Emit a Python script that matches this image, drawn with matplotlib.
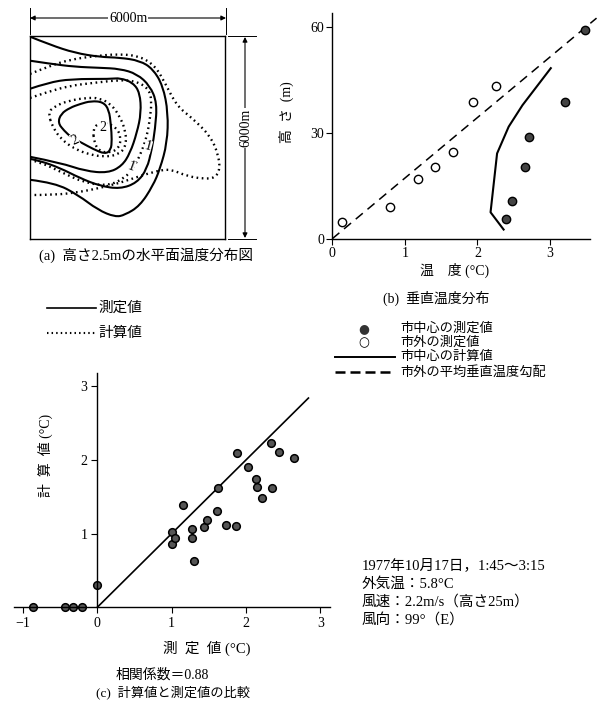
import matplotlib
matplotlib.use('Agg')
import matplotlib.pyplot as plt
from matplotlib.lines import Line2D
from matplotlib.path import Path
from matplotlib.patches import PathPatch

plt.rcParams['font.family'] = ['Liberation Serif', 'Noto Sans CJK JP']

# (a) contour lines, in km inside the 6 km x 6 km square
meas_outer = [(0, 5.98), (0.62, 5.74), (1.38, 5.50), (2.15, 5.38), (2.77, 5.36), (3.38, 5.27),
              (3.78, 5.03), (4.09, 4.53), (4.25, 3.73), (4.22, 2.84), (4.00, 2.07), (3.78, 1.57),
              (3.38, 0.98), (2.92, 0.71), (2.62, 0.65), (2.09, 0.86), (1.48, 1.30), (0.77, 1.66),
              (0, 1.75)]
meas_mid = [(0, 5.27), (0.62, 5.18), (1.38, 5.09), (2.15, 5.06), (2.77, 5.03), (3.29, 4.88),
            (3.69, 4.53), (3.91, 4.02), (3.85, 3.25), (3.75, 2.66), (3.60, 2.07), (3.29, 1.66),
            (2.77, 1.48), (2.15, 1.57), (1.54, 1.80), (0.92, 2.10), (0.31, 2.31), (0, 2.37)]
meas_one = [(0, 4.44), (0.55, 4.62), (1.26, 4.73), (2.49, 4.73), (2.77, 4.76), (3.17, 4.62),
            (3.38, 4.32), (3.42, 3.73), (3.29, 3.14), (3.08, 2.54), (2.83, 2.16), (2.40, 1.95),
            (1.69, 2.01), (0.95, 2.25), (0, 2.43)]
meas_two = [(0.86, 3.43), (0.95, 3.70), (1.23, 3.88), (1.54, 3.99), (1.88, 4.08), (2.25, 4.05),
            (2.43, 3.82), (2.49, 3.37), (2.52, 2.93), (2.49, 2.63), (2.31, 2.51), (1.94, 2.66),
            (1.60, 2.84), (1.29, 2.99), (1.05, 3.20), (0.86, 3.43)]
calc_outer = [(0, 4.88), (0.62, 5.12), (1.23, 5.30), (2.00, 5.41), (2.77, 5.47), (3.38, 5.40),
              (3.85, 5.12), (4.15, 4.62), (4.52, 3.93), (5.02, 3.55), (5.54, 3.05), (5.78, 2.54),
              (5.85, 2.07), (5.69, 1.80), (5.32, 1.78), (4.83, 1.86), (4.31, 2.07), (3.91, 2.01),
              (3.38, 1.86), (2.77, 1.66), (2.15, 1.51), (1.54, 1.39), (0.77, 1.30), (0, 1.30)]
calc_one = [(0, 4.17), (0.55, 4.35), (1.23, 4.53), (2.00, 4.62), (2.77, 4.70), (3.23, 4.67),
            (3.63, 4.47), (3.75, 4.11), (3.69, 3.55), (3.60, 3.05), (3.42, 2.54), (3.20, 2.13),
            (2.92, 1.80), (2.40, 1.57), (1.69, 1.66), (0.95, 1.98), (0.37, 2.25), (0, 2.34)]
calc_mid = [(0.55, 3.73), (0.77, 3.93), (1.17, 4.08), (1.69, 4.17), (2.15, 4.17), (2.52, 3.96),
            (2.77, 3.61), (2.95, 3.17), (2.95, 2.72), (2.71, 2.49), (2.31, 2.43), (1.85, 2.49),
            (1.38, 2.66), (0.98, 2.93), (0.71, 3.28), (0.55, 3.73)]
calc_two = [(1.94, 3.22), (2.06, 3.40), (2.37, 3.43), (2.68, 3.28), (2.80, 2.99), (2.74, 2.69),
            (2.46, 2.54), (2.12, 2.60), (1.97, 2.87), (1.94, 3.22)]

# (b) vertical temperature profile
out_temp = [0.14, 0.79, 1.18, 1.41, 1.66, 1.94, 2.26]
out_height = [4.7, 9.1, 17.0, 20.4, 24.7, 38.8, 43.3]
city_temp = [2.39, 2.47, 2.65, 2.71, 3.21, 3.48]
city_height = [5.5, 10.7, 20.4, 29.0, 38.8, 59.1]
city_calc_temp = [2.36, 2.18, 2.27, 2.43, 2.62, 3.01]
city_calc_height = [2.6, 7.5, 24.2, 31.8, 37.9, 48.4]
grad_temp = [0, 3.64]
grad_height = [0, 62.6]

# (c) calculated vs measured
measured = [-0.86, -0.43, -0.33, -0.21, 0.0, 1.00, 1.01, 1.05, 1.15, 1.27, 1.27, 1.30, 1.43,
            1.47, 1.61, 1.62, 1.73, 1.87, 1.88, 2.03, 2.14, 2.15, 2.21, 2.34, 2.35, 2.45, 2.65]
calculated = [0, 0, 0, 0, 0.30, 1.02, 0.86, 0.94, 1.39, 1.06, 0.94, 0.63, 1.09,
              1.18, 1.31, 1.62, 1.12, 1.10, 2.10, 1.91, 1.74, 1.63, 1.49, 2.23, 1.62, 2.11, 2.02]
one_to_one = [0, 2.84]

W, H = 598, 709
fig = plt.figure(figsize=(W / 100, H / 100), dpi=100)


def rect(l, t, r, b):
    return [l / W, 1 - b / H, (r - l) / W, (b - t) / H]


def fx(px):
    return px / W


def fy(py):
    return 1 - py / H


def fig_line(x0, y0, x1, y1, **kw):
    fig.add_artist(Line2D([fx(x0), fx(x1)], [fy(y0), fy(y1)], transform=fig.transFigure,
                          color='k', **kw))


def rounded(pts):
    # hand-drawn look: quadratic curves through the midpoints of the traced points
    closed = pts[0] == pts[-1]
    mid = lambda a, b: ((a[0] + b[0]) / 2, (a[1] + b[1]) / 2)
    if closed:
        p = pts[:-1]
        n = len(p)
        verts = [mid(p[-1], p[0])]
        codes = [Path.MOVETO]
        for i in range(n):
            verts += [p[i], mid(p[i], p[(i + 1) % n])]
            codes += [Path.CURVE3, Path.CURVE3]
    else:
        verts = [pts[0]]
        codes = [Path.MOVETO]
        for i in range(1, len(pts) - 2):
            verts += [pts[i], mid(pts[i], pts[i + 1])]
            codes += [Path.CURVE3, Path.CURVE3]
        verts += [pts[-2], pts[-1]]
        codes += [Path.CURVE3, Path.CURVE3]
    return Path(verts, codes)


dots = (0, (0.7, 1.5))

# ---------- (a) ----------
ax_a = fig.add_axes(rect(30, 36, 225, 239))
ax_a.set_xlim(0, 6)
ax_a.set_ylim(0, 6)
ax_a.set_xticks([])
ax_a.set_yticks([])
for s in ax_a.spines.values():
    s.set_linewidth(1.0)
for line in [meas_outer, meas_mid, meas_one, meas_two]:
    ax_a.add_patch(PathPatch(rounded(line), fill=False, ec='k', lw=1.5, joinstyle='round'))
for line in [calc_outer, calc_one, calc_mid, calc_two]:
    ax_a.add_patch(PathPatch(rounded(line), fill=False, ec='k', lw=1.7, linestyle=dots))
lbl = dict(ha='center', va='center', fontsize=10, bbox=dict(fc='white', ec='none', pad=0.1))
ax_a.text(1.38, 2.93, '2', rotation=25, **lbl)
ax_a.text(2.25, 3.31, '2', **lbl)
ax_a.text(3.11, 2.13, '1', rotation=-20, **lbl)
ax_a.text(3.63, 2.72, '1', rotation=-15, **lbl)

# dimension arrows
fig_line(30, 8, 30, 34, lw=0.7)
fig_line(226, 8, 226, 34, lw=0.7)
ax_a.annotate('', xy=(fx(226), fy(18)), xytext=(fx(30), fy(18)), xycoords='figure fraction',
              arrowprops=dict(arrowstyle='<|-|>', color='k', lw=0.8, mutation_scale=7,
                              shrinkA=0, shrinkB=0))
fig.text(fx(128), fy(18), '6000m', ha='center', va='center', fontsize=10,
         bbox=dict(fc='white', ec='none', pad=0.5))
fig_line(228, 36, 256, 36, lw=0.7)
fig_line(228, 239, 256, 239, lw=0.7)
ax_a.annotate('', xy=(fx(245), fy(37)), xytext=(fx(245), fy(238)), xycoords='figure fraction',
              arrowprops=dict(arrowstyle='<|-|>', color='k', lw=0.8, mutation_scale=7,
                              shrinkA=0, shrinkB=0))
fig.text(fx(246), fy(128), '6000m', ha='center', va='center', fontsize=10, rotation=90,
         bbox=dict(fc='white', ec='none', pad=0.5))
fig.text(fx(146), fy(255), '(a)  高さ2.5mの水平面温度分布図', ha='center', va='center',
         fontsize=10.5)

# ---------- (b) ----------
ax_b = fig.add_axes(rect(332.3, 13.2, 590, 238.7))
ax_b.set_xlim(0, 3.55)
ax_b.set_ylim(0, 64)
for s in ['top', 'right']:
    ax_b.spines[s].set_visible(False)
for s in ['left', 'bottom']:
    ax_b.spines[s].set_linewidth(1.0)
ax_b.set_xticks([0, 1, 2, 3])
ax_b.set_yticks([0, 30, 60])
ax_b.tick_params(direction='out', length=4, width=0.8, labelsize=10, pad=2)
ax_b.plot(grad_temp, grad_height, color='k', lw=1.1, dashes=(6, 4), clip_on=False)
ax_b.plot(city_calc_temp, city_calc_height, color='k', lw=1.5)
ax_b.plot(out_temp, out_height, 'o', ms=6, mfc='white', mec='k', mew=1.0)
ax_b.plot(city_temp, city_height, 'o', ms=6, mfc='#444444', mec='k', mew=1.0, clip_on=False)
fig.text(fx(455), fy(270), '温　度 (°C)', ha='center', va='center', fontsize=10)
fig.text(fx(286), fy(112), '高  さ  (m)', ha='center', va='center', fontsize=10, rotation=90)
fig.text(fx(436), fy(298), '(b)  垂直温度分布', ha='center', va='center', fontsize=10)

# legend of (b)
fig.text(fx(364), fy(329), '●', ha='center', va='center', fontsize=9, color='#333333',
         family='DejaVu Sans')
fig.text(fx(364), fy(343), '○', ha='center', va='center', fontsize=9, family='DejaVu Sans')
fig_line(335, 357, 395, 357, lw=1.4)
fig_line(335, 372, 395, 372, lw=1.8, dashes=(4, 2))
for yy, t in zip([329, 343, 357, 372],
                 ['市中心の測定値', '市外の測定値', '市中心の計算値', '市外の平均垂直温度勾配']):
    fig.text(fx(400), fy(yy), t, ha='left', va='center', fontsize=9.5)

# legend of (a)
fig_line(47, 308, 96, 308, lw=1.2)
fig.text(fx(98), fy(308), '測定値', ha='left', va='center', fontsize=10.5)
fig_line(47, 333, 96, 333, lw=1.5, linestyle=dots)
fig.text(fx(98), fy(333), '計算値', ha='left', va='center', fontsize=10.5)

# ---------- (c) ----------
ax_c = fig.add_axes(rect(14, 373, 330, 607.3))
ax_c.set_xlim(-1.12, 3.13)
ax_c.set_ylim(0, 3.18)
for s in ['top', 'right']:
    ax_c.spines[s].set_visible(False)
ax_c.spines['left'].set_position(('data', 0))
for s in ['left', 'bottom']:
    ax_c.spines[s].set_linewidth(1.0)
ax_c.set_xticks([-1, 0, 1, 2, 3])
ax_c.set_xticklabels(['−1', '0', '1', '2', '3'])
ax_c.set_yticks([1, 2, 3])
ax_c.tick_params(direction='out', length=4, width=0.8, labelsize=10, pad=3)
ax_c.plot(one_to_one, one_to_one, color='k', lw=1.2)
ax_c.plot(measured, calculated, 'o', ms=5.5, mfc='#555555', mec='k', mew=1.1, clip_on=False)
fig.text(fx(207), fy(648), '測  定  値 (°C)', ha='center', va='center', fontsize=10.5)
fig.text(fx(45), fy(455), '計  算  値 (°C)', ha='center', va='center', fontsize=10,
         rotation=90)
fig.text(fx(162), fy(675), '相関係数＝0.88', ha='center', va='center', fontsize=10)
fig.text(fx(173), fy(692), '(c)  計算値と測定値の比較', ha='center', va='center', fontsize=9.5)

# conditions
info = ['1977年10月17日，1:45～3:15', '外気温：5.8°C', '風速：2.2m/s（高さ25m）', '風向：99°（E）']
for yy, t in zip([565, 584, 602, 620], info):
    fig.text(fx(362), fy(yy), t, ha='left', va='center', fontsize=10.5)

fig.savefig('out.png', dpi=100)
